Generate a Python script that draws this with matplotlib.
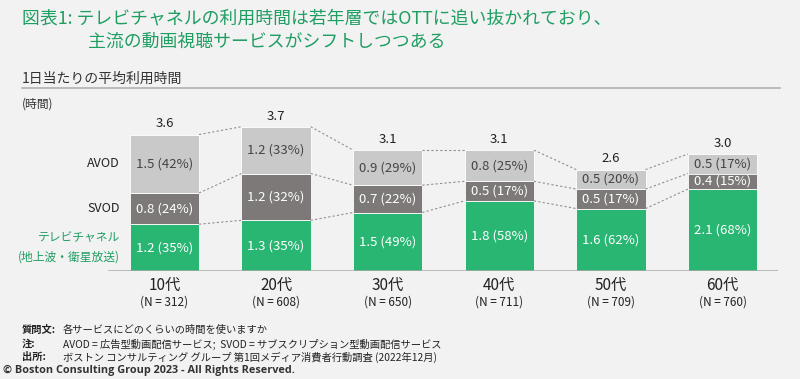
import matplotlib
matplotlib.use('Agg')
import matplotlib.pyplot as plt
import numpy as np

plt.rcParams['font.family'] = ['Noto Sans CJK JP', 'DejaVu Sans']

# data
ages = ['10代', '20代', '30代', '40代', '50代', '60代']
sample_n = [312, 608, 650, 711, 709, 760]
tv = [1.2, 1.3, 1.5, 1.8, 1.6, 2.1]
svod = [0.8, 1.2, 0.7, 0.5, 0.5, 0.4]
avod = [1.5, 1.2, 0.9, 0.8, 0.5, 0.5]
tv_pct = [35, 35, 49, 58, 62, 68]
svod_pct = [24, 32, 22, 17, 17, 15]
avod_pct = [42, 33, 29, 25, 20, 17]
totals = [3.6, 3.7, 3.1, 3.1, 2.6, 3.0]

BG = '#f2f2f2'
GREEN = '#29b673'
DARK = '#7d7979'
LIGHT = '#c9c9c9'
TITLE_GREEN = '#1f9e62'

fig = plt.figure(figsize=(8, 3.79), dpi=100)
fig.patch.set_facecolor(BG)

# title: size it so the two lines span about the widths in the reference
title1 = '図表1: テレビチャネルの利用時間は若年層ではOTTに追い抜かれており、'
title2 = '主流の動画視聴サービスがシフトしつつある'
t1 = fig.text(22/800, 1 - 18/379, title1, color=TITLE_GREEN, fontsize=14,
              va='center', ha='left')
t2 = fig.text(88/800, 1 - 42/379, title2, color=TITLE_GREEN, fontsize=14,
              va='center', ha='left')
r = fig.canvas.get_renderer()
s1 = 14 * 598 / t1.get_window_extent(r).width
s2 = 14 * 354 / t2.get_window_extent(r).width
fs = (s1 + s2) / 2
t1.set_fontsize(fs)
t2.set_fontsize(fs)

fig.text(22/800, 1 - 79/379, '1日当たりの平均利用時間', color='#333333', fontsize=10,
         va='center', ha='left')
fig.add_artist(plt.Line2D([22/800, 780/800], [1 - 88/379, 1 - 88/379],
                          color='#b0b0b0', lw=1.2, transform=fig.transFigure))
fig.text(22/800, 1 - 104/379, '(時間)', color='#333333', fontsize=8.5,
         va='center', ha='left')

ax = fig.add_axes([108/800, 108/379, 670/800, 156/379])
ax.set_facecolor(BG)
x = np.arange(len(ages))
w = 0.62

tv_a = np.array(tv)
svod_a = np.array(svod)
avod_a = np.array(avod)

ax.bar(x, tv_a, w, color=GREEN, edgecolor='white', linewidth=0.6)
ax.bar(x, svod_a, w, bottom=tv_a, color=DARK, edgecolor='white', linewidth=0.6)
ax.bar(x, avod_a, w, bottom=tv_a + svod_a, color=LIGHT, edgecolor='white', linewidth=0.6)

# connectors between bars
levels = [tv_a, tv_a + svod_a, tv_a + svod_a + avod_a]
for lv in levels:
    for i in range(len(x) - 1):
        ax.plot([x[i] + w/2, x[i+1] - w/2], [lv[i], lv[i+1]],
                ls=(0, (2, 2)), color='#909090', lw=0.8)

# segment labels
for i in range(len(x)):
    ax.text(x[i], tv_a[i] / 2, f'{tv[i]:.1f} ({tv_pct[i]}%)', color='white',
            ha='center', va='center', fontsize=9.5)
    ax.text(x[i], tv_a[i] + svod_a[i] / 2, f'{svod[i]:.1f} ({svod_pct[i]}%)', color='white',
            ha='center', va='center', fontsize=9.5)
    ax.text(x[i], tv_a[i] + svod_a[i] + avod_a[i] / 2, f'{avod[i]:.1f} ({avod_pct[i]}%)',
            color='#444444', ha='center', va='center', fontsize=9.5)
    ax.annotate(f'{totals[i]:.1f}', (x[i], levels[2][i]), xytext=(0, 3),
                textcoords='offset points', ha='center', va='bottom',
                fontsize=9.5, color='#222222')
    ax.annotate(ages[i], (x[i], 0), xytext=(0, -4), textcoords='offset points',
                ha='center', va='top', fontsize=11, color='#222222')
    ax.annotate(f'(N = {sample_n[i]})', (x[i], 0), xytext=(0, -18),
                textcoords='offset points', ha='center', va='top',
                fontsize=8.5, color='#222222')

# series names on the left
lx = x[0] - w/2 - 0.09
ax.text(lx, tv_a[0] + svod_a[0] + avod_a[0] / 2, 'AVOD', ha='right', va='center',
        fontsize=9, color='#222222')
ax.text(lx, tv_a[0] + svod_a[0] / 2, 'SVOD', ha='right', va='center',
        fontsize=9, color='#222222')
ax.text(lx, tv_a[0] / 2, 'テレビチャネル\n(地上波・衛星放送)', ha='right', va='center',
        fontsize=8.5, color=TITLE_GREEN, linespacing=1.5)

ax.axhline(0, color='#a8a8a8', lw=1.8)
ax.set_xlim(-0.506, 5.497)
ax.set_ylim(0, 4.0)
for s in ax.spines.values():
    s.set_visible(False)
ax.set_xticks([])
ax.set_yticks([])

# footer
notes = [('質問文:', '各サービスにどのくらいの時間を使いますか', 330),
         ('注:', 'AVOD = 広告型動画配信サービス;  SVOD = サブスクリプション型動画配信サービス', 344),
         ('出所:', 'ボストン コンサルティング グループ 第1回メディア消費者行動調査 (2022年12月)', 357)]
for head, body, yy in notes:
    fig.text(22/800, 1 - yy/379, head, fontsize=7.4, fontweight='bold', color='#222222',
             va='center', ha='left')
    fig.text(63/800, 1 - yy/379, body, fontsize=7.4, color='#222222', va='center', ha='left')
fig.text(3/800, 1 - 370/379, '© Boston Consulting Group 2023 - All Rights Reserved.',
         fontsize=7.8, fontweight='bold', color='#333333', va='center', ha='left',
         family=['Open Sans', 'DejaVu Sans'])

fig.savefig('out.png', dpi=100, facecolor=BG)
